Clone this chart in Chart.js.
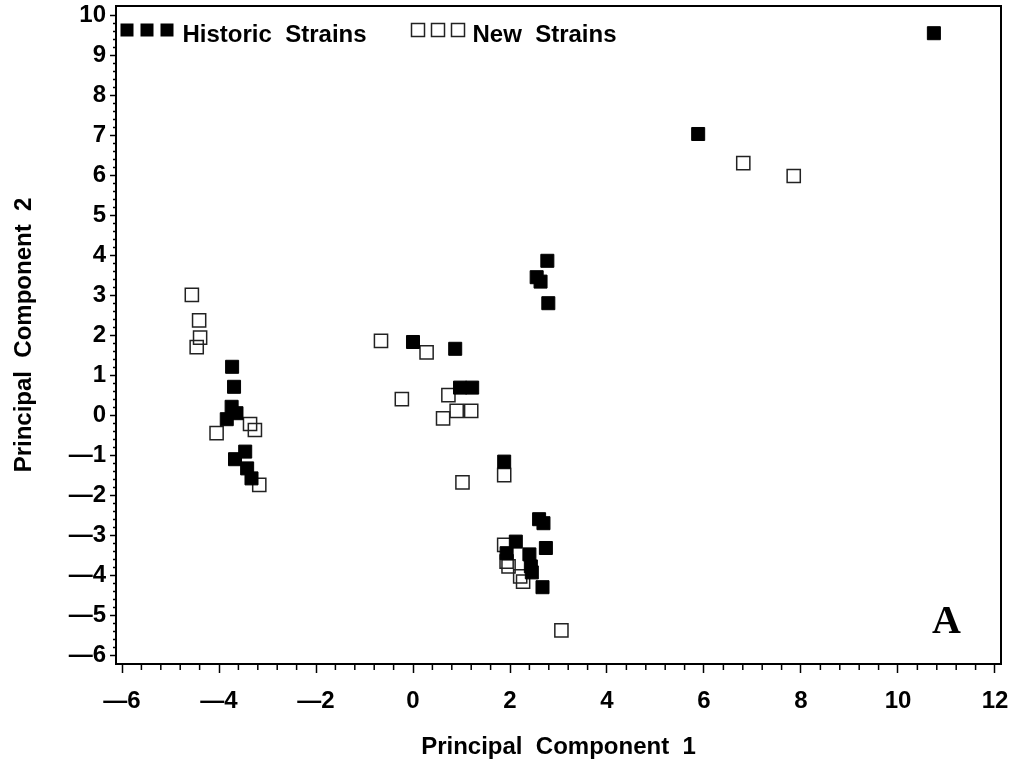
<!DOCTYPE html>
<html>
<head>
<meta charset="utf-8">
<script src="https://cdn.jsdelivr.net/npm/chart.js@4.4.1/dist/chart.umd.min.js"></script>
<style>
  html, body { margin: 0; padding: 0; background: #fff; }
  #wrap { width: 1010px; height: 778px; }
</style>
</head>
<body>
<div id="wrap"><canvas id="pca" width="1010" height="778"></canvas></div>
<script>
// series names and point values
const seriesNames = ['Historic  Strains', 'New  Strains'];

const historicX = [10.74, 5.88, 2.77, 2.55, 2.63, 2.79, 0.00, 0.87, 0.97, 1.22, 1.88,
  -3.73, -3.69, -3.74, -3.64, -3.84, -3.46, -3.67, -3.42, -3.33,
  2.60, 2.69, 2.74, 2.12, 1.93, 2.40, 2.43, 2.45, 2.67];
const historicY = [9.56, 7.04, 3.87, 3.46, 3.35, 2.81, 1.84, 1.67, 0.70, 0.70, -1.15,
  1.22, 0.72, 0.22, 0.06, -0.09, -0.90, -1.09, -1.32, -1.57,
  -2.59, -2.69, -3.31, -3.15, -3.44, -3.47, -3.77, -3.92, -4.29];

const newX = [6.81, 7.85, -4.56, -4.41, -4.39, -4.46, -3.36, -3.26, -4.05, -3.17,
  -0.66, 0.28, -0.23, 0.73, 0.90, 1.20, 0.62, 1.88, 1.02,
  1.88, 1.93, 1.97, 2.21, 2.27, 3.06];
const newY = [6.31, 5.99, 3.02, 2.38, 1.95, 1.71, -0.21, -0.36, -0.44, -1.73,
  1.87, 1.58, 0.41, 0.51, 0.12, 0.12, -0.07, -1.49, -1.67,
  -3.23, -3.65, -3.77, -4.02, -4.15, -5.37];

const xTicks = [-6, -4, -2, 0, 2, 4, 6, 8, 10, 12];
const yTicks = [-6, -5, -4, -3, -2, -1, 0, 1, 2, 3, 4, 5, 6, 7, 8, 9, 10];
const xTitle = 'Principal  Component  1';
const yTitle = 'Principal  Component  2';
const panelLabel = 'A';

const sans = '"Liberation Sans", Arial, sans-serif';
const tickFont = { family: sans, size: 24, weight: 'bold' };
const titleFont = { family: sans, size: 24, weight: 'bold' };

const fmt = v => v < 0 ? '\u2014' + Math.abs(v) : String(v);
const toPoints = (xs, ys) => xs.map((x, i) => ({ x: x, y: ys[i] }));

// frame, minor ticks, in-plot legend and panel letter
const extras = {
  id: 'extras',
  afterDraw(chart) {
    const { ctx, chartArea: a, scales: { x, y } } = chart;
    ctx.save();
    ctx.strokeStyle = '#000';
    ctx.lineWidth = 2;
    ctx.strokeRect(a.left, a.top, a.right - a.left, a.bottom - a.top);

    ctx.lineWidth = 1.5;
    ctx.beginPath();
    for (let i = 0; i < xTicks.length - 1; i++) {
      for (let k = 1; k < 5; k++) {
        const px = x.getPixelForValue(xTicks[i] + (xTicks[i + 1] - xTicks[i]) * k / 5);
        ctx.moveTo(px, a.bottom);
        ctx.lineTo(px, a.bottom + 6);
      }
    }
    for (let i = 0; i < yTicks.length - 1; i++) {
      for (let k = 1; k < 5; k++) {
        const py = y.getPixelForValue(yTicks[i] + (yTicks[i + 1] - yTicks[i]) * k / 5);
        ctx.moveTo(a.left, py);
        ctx.lineTo(a.left - 3, py);
      }
    }
    ctx.stroke();

    // legend: three symbols then the name, like the SAS legend
    const ly = a.top + 24;
    ctx.fillStyle = '#000';
    [11, 31, 51].forEach(dx => ctx.fillRect(a.left + dx - 6.5, ly - 6.5, 13, 13));
    ctx.strokeStyle = '#222';
    ctx.lineWidth = 1.5;
    [302, 322, 342].forEach(dx => ctx.strokeRect(a.left + dx - 6.5, ly - 6.5, 13, 13));
    ctx.font = 'bold 24px ' + sans;
    ctx.textBaseline = 'alphabetic';
    ctx.textAlign = 'left';
    ctx.fillText(seriesNames[0], a.left + 66.5, a.top + 36);
    ctx.fillText(seriesNames[1], a.left + 356.5, a.top + 36);

    ctx.font = 'bold 40px "Liberation Serif", "Times New Roman", serif';
    ctx.fillText(panelLabel, a.right - 69, a.bottom - 31);
    ctx.restore();
  }
};

new Chart(document.getElementById('pca'), {
  type: 'scatter',
  data: {
    datasets: [
      {
        label: seriesNames[0],
        data: toPoints(historicX, historicY),
        pointStyle: 'rect',
        pointRadius: 9.2,
        pointBackgroundColor: '#000',
        pointBorderColor: '#000',
        pointBorderWidth: 1
      },
      {
        label: seriesNames[1],
        data: toPoints(newX, newY),
        pointStyle: 'rect',
        pointRadius: 9.3,
        pointBackgroundColor: 'rgba(255,255,255,0)',
        pointBorderColor: '#222',
        pointBorderWidth: 1.5
      }
    ]
  },
  options: {
    responsive: false,
    animation: false,
    layout: { autoPadding: false, padding: { top: 6, right: 9, left: 0, bottom: 0 } },
    plugins: { legend: { display: false }, tooltip: { enabled: false } },
    scales: {
      x: {
        type: 'linear',
        position: 'bottom',
        min: -6.124,
        max: 12.124,
        afterBuildTicks: s => { s.ticks = xTicks.map(v => ({ value: v })); },
        afterFit: s => { s.height = 114; s.paddingLeft = 0; s.paddingRight = 0; },
        ticks: { autoSkip: false, maxRotation: 0, padding: 14, color: '#000', font: tickFont, callback: fmt },
        grid: { drawOnChartArea: false, tickLength: 9, tickWidth: 1.5, tickColor: '#000' },
        border: { display: false },
        title: { display: true, text: xTitle, color: '#000', font: titleFont, padding: { top: 0, bottom: 16 } }
      },
      y: {
        type: 'linear',
        position: 'left',
        min: -6.21,
        max: 10.24,
        afterBuildTicks: s => { s.ticks = yTicks.map(v => ({ value: v })); },
        afterFit: s => { s.width = 116; s.paddingTop = 0; s.paddingBottom = 0; },
        ticks: { autoSkip: false, padding: 4, color: '#000', font: tickFont, callback: fmt },
        grid: { drawOnChartArea: false, tickLength: 6, tickWidth: 1.5, tickColor: '#000' },
        border: { display: false },
        title: { display: true, text: yTitle, color: '#000', font: titleFont, padding: { top: 10, bottom: 0 } }
      }
    }
  },
  plugins: [extras]
});
</script>
</body>
</html>
